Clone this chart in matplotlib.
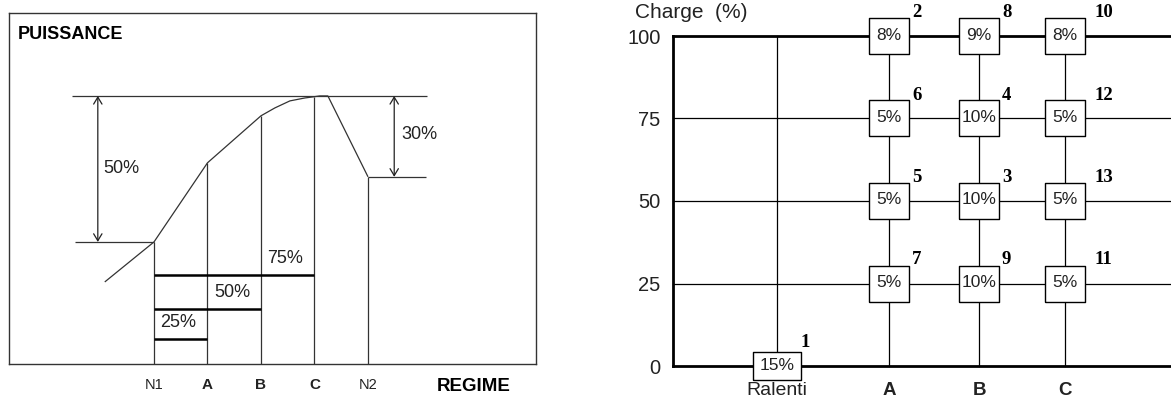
import matplotlib
matplotlib.use("Agg")
import matplotlib.pyplot as plt
import numpy as np

plt.rcParams["font.family"] = ["Liberation Sans", "DejaVu Sans"]

# ---- left panel: power curve vs engine speed ----
regime_labels = ["N1", "A", "B", "C", "N2"]
regime_x = [0, 1, 2, 3, 4]
regime_bold = [False, True, True, True, False]

curve_x = [-0.92, 0, 1, 2, 2.26, 2.54, 2.82, 3.1, 3.25, 4]
curve_p = [36.3, 50, 77.1, 93.2, 95.9, 98.3, 99.3, 100, 100, 72.3]

load_labels = ["25%", "50%", "75%"]
load_end = [1, 2, 3]
load_level = [16.8, 27.1, 38.7]

peak_power = 100
n1_power = 50
n2_power = 72.3

# ---- right panel: 13-mode test cycle ----
charge_levels = [0, 25, 50, 75, 100]
point_labels = ["Ralenti", "A", "B", "C"]
point_pos = [1.04, 2.16, 3.06, 3.92]

mode_num = [1, 2, 3, 4, 5, 6, 7, 8, 9, 10, 11, 12, 13]
mode_point = ["Ralenti", "A", "B", "B", "A", "A", "A", "B", "B", "C", "C", "C", "C"]
mode_charge = [0, 100, 50, 75, 50, 75, 25, 100, 25, 100, 25, 75, 50]
mode_weight = [15, 8, 10, 10, 5, 5, 5, 9, 10, 8, 5, 5, 5]

W, H = 1171, 398


def px_axes(l, t, r, b):
    return [l / W, (H - b) / H, (r - l) / W, (b - t) / H]


fig = plt.figure(figsize=(W / 100, H / 100), dpi=100)
ink = "#222222"

# ================= left =================
ax1 = fig.add_axes(px_axes(9, 13, 536, 364))
ax1.set_xlim(-2.71, 7.14)
ax1.set_ylim(8.2, 128.4)
ax1.set_xticks([])
ax1.set_yticks([])
for s in ax1.spines.values():
    s.set_color("#333333")
    s.set_linewidth(1.0)

thin = dict(color="#333333", lw=0.9, solid_capstyle="butt")
ax1.plot(curve_x, curve_p, **thin)

# verticals from the bottom up to the curve
bottom = ax1.get_ylim()[0]
for x in regime_x:
    ax1.plot([x, x], [bottom, np.interp(x, curve_x, curve_p)], **thin)

# reference levels
ax1.plot([-1.53, 5.10], [peak_power, peak_power], **thin)
ax1.plot([-1.48, 0], [n1_power, n1_power], **thin)
ax1.plot([4, 5.08], [n2_power, n2_power], **thin)

arrow = dict(arrowstyle="<->,head_length=0.5,head_width=0.3", lw=0.9,
             color=ink, shrinkA=0, shrinkB=0)
ax1.annotate("", xy=(-1.05, peak_power), xytext=(-1.05, n1_power), arrowprops=arrow)
ax1.annotate("", xy=(4.49, peak_power), xytext=(4.49, n2_power), arrowprops=arrow)
ax1.text(-0.95, (peak_power + n1_power) / 2, "50%", fontsize=13, color=ink,
         ha="left", va="center")
ax1.text(4.62, (peak_power + n2_power) / 2 + 0.8, "30%", fontsize=13, color=ink,
         ha="left", va="center")

# load bars
for lab, end, lvl in zip(load_labels, load_end, load_level):
    ax1.plot([regime_x[0], regime_x[end]], [lvl, lvl], color="black", lw=1.8,
             solid_capstyle="butt")
    ax1.text(regime_x[end - 1] + 0.12, lvl + 5.6, lab, fontsize=13, color=ink,
             ha="left", va="center")

for lab, x, b in zip(regime_labels, regime_x, regime_bold):
    ax1.annotate(lab, xy=(x, 0), xycoords=("data", "axes fraction"),
                 xytext=(0, -25), textcoords="offset pixels", ha="center",
                 va="baseline", fontsize=11 if b else 10.5,
                 fontweight="bold" if b else "normal", color=ink,
                 annotation_clip=False)
ax1.annotate("REGIME", xy=(0.881, 0), xycoords="axes fraction", xytext=(0, -27),
             textcoords="offset pixels", ha="center", va="baseline", fontsize=13.5,
             fontweight="bold", color="black")
ax1.annotate("PUISSANCE", xy=(0, 1), xycoords="axes fraction", xytext=(9, -26),
             textcoords="offset pixels", ha="left", va="baseline", fontsize=13,
             fontweight="bold", color="black")

# ================= right =================
ax2 = fig.add_axes(px_axes(673, 36, 1171, 366))
ax2.set_xlim(0, 4.98)
ax2.set_ylim(0, 100)
for side in ["left", "bottom", "top"]:
    ax2.spines[side].set_linewidth(2.0)
    ax2.spines[side].set_color("black")
ax2.spines["right"].set_visible(False)

ax2.set_yticks(charge_levels)
ax2.set_yticklabels([str(c) for c in charge_levels])
ax2.tick_params(axis="y", length=0, pad=9, labelsize=14.5, labelcolor=ink)
ax2.set_xticks([])

for c in charge_levels[1:-1]:
    ax2.plot([0, 4.98], [c, c], color="black", lw=0.9, clip_on=False)
for x in point_pos:
    ax2.plot([x, x], [0, 100], color="black", lw=0.9, clip_on=False)

pos_of = dict(zip(point_labels, point_pos))
box = [(-1, -0.9), (1, -0.9), (1, 0.9), (-1, 0.9), (-1, -0.9)]
wide_box = [(-1, -0.6), (1, -0.6), (1, 0.6), (-1, 0.6), (-1, -0.6)]
for n, p, c, w in zip(mode_num, mode_point, mode_charge, mode_weight):
    x = pos_of[p]
    if p == "Ralenti":
        ax2.plot(x, c, marker=wide_box, ms=34.5, mfc="white", mec="black",
                 mew=1.0, ls="none", zorder=4, clip_on=False)
    else:
        ax2.plot(x, c, marker=box, ms=29, mfc="white", mec="black",
                 mew=1.0, ls="none", zorder=4, clip_on=False)
    ax2.annotate(f"{w}%", xy=(x, c), xytext=(0, 1), textcoords="offset pixels",
                 ha="center", va="center", fontsize=12.5, color=ink, zorder=5,
                 annotation_clip=False)
    s = str(n)
    dx = 23 if len(s) == 1 else 30
    ax2.annotate(s, xy=(x, c), xytext=(dx, 19), textcoords="offset pixels",
                 ha="left", va="baseline", fontsize=13.5, fontweight="bold",
                 family="Liberation Serif", color="black", zorder=5,
                 annotation_clip=False)

for lab, x in zip(point_labels, point_pos):
    bold = lab != "Ralenti"
    ax2.annotate(lab, xy=(x, 0), xycoords=("data", "axes fraction"),
                 xytext=(0, -29), textcoords="offset pixels",
                 ha="center", va="baseline", fontsize=14 if not bold else 13.5,
                 fontweight="bold" if bold else "normal", color=ink,
                 annotation_clip=False)

ax2.annotate("Charge  (%)", xy=(0, 1), xycoords="axes fraction", xytext=(-38, 24),
             textcoords="offset pixels", ha="left", va="center", fontsize=15,
             color=ink, annotation_clip=False)

fig.savefig("out.png", dpi=100)
